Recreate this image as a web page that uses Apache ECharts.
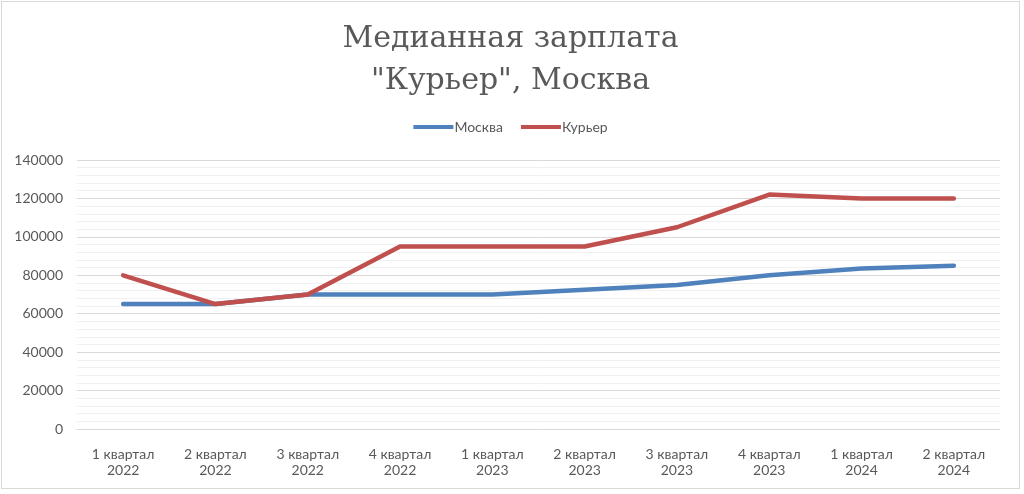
<!DOCTYPE html>
<html><head><meta charset="utf-8">
<script src="https://cdn.jsdelivr.net/npm/echarts@6/dist/echarts.min.js"></script>
<style>
html,body{margin:0;padding:0;background:#fff;}
#c{position:absolute;left:1px;top:1px;width:1019px;height:488px;border:1px solid #d9d9d9;box-sizing:border-box;}
</style></head><body>
<div id="c"></div>
<script>
const categories = ["1 квартал\n2022","2 квартал\n2022","3 квартал\n2022","4 квартал\n2022","1 квартал\n2023","2 квартал\n2023","3 квартал\n2023","4 квартал\n2023","1 квартал\n2024","2 квартал\n2024"];
const moscow = [65000,65000,70000,70000,70000,72500,75000,80000,83500,85000];
const courier = [80000,65000,70000,95000,95000,95000,105000,122000,120000,120000];
const seriesNames = ["Москва","Курьер"];
const titleText = "Медианная зарплата\n\"Курьер\", Москва";

const chart = echarts.init(document.getElementById('c'));
const font = 'Lato, "Open Sans", sans-serif';
chart.setOption({
  animation:false,
  title:{text:titleText,left:'center',top:11,
    textStyle:{fontFamily:'"DejaVu Serif", serif',fontSize:30,fontWeight:'normal',color:'#595959',lineHeight:42}},
  legend:{top:113,left:'center',itemWidth:40,itemHeight:4,itemGap:18,icon:'rect',
    textStyle:{fontFamily:font,fontSize:14,color:'#595959',padding:[0,0,0,-4]},data:seriesNames},
  grid:{left:75,right:19,top:158,bottom:59,containLabel:false},
  xAxis:{type:'category',data:categories,boundaryGap:true,
    axisLine:{lineStyle:{color:'#d9d9d9',width:1}},axisTick:{show:false},
    axisLabel:{fontFamily:font,fontSize:14,color:'#595959',lineHeight:16,margin:17}},
  yAxis:{type:'value',min:0,max:140000,interval:20000,
    axisLine:{show:false},axisTick:{show:false},
    axisLabel:{fontFamily:font,fontSize:14,color:'#595959',margin:14,formatter:function(v){return String(v);}},
    splitLine:{lineStyle:{color:'#d9d9d9',width:1}},
    minorTick:{show:false,splitNumber:5},
    minorSplitLine:{show:true,lineStyle:{color:'#f0f0f0',width:1}}},
  series:[
    {name:seriesNames[0],type:'line',data:moscow,symbol:'none',lineStyle:{width:4.5,color:'#4f81bd',cap:'round',join:'round'},itemStyle:{color:'#4f81bd'}},
    {name:seriesNames[1],type:'line',data:courier,symbol:'none',lineStyle:{width:4.5,color:'#c0504d',cap:'round',join:'round'},itemStyle:{color:'#c0504d'}}
  ]
});
</script></body></html>
